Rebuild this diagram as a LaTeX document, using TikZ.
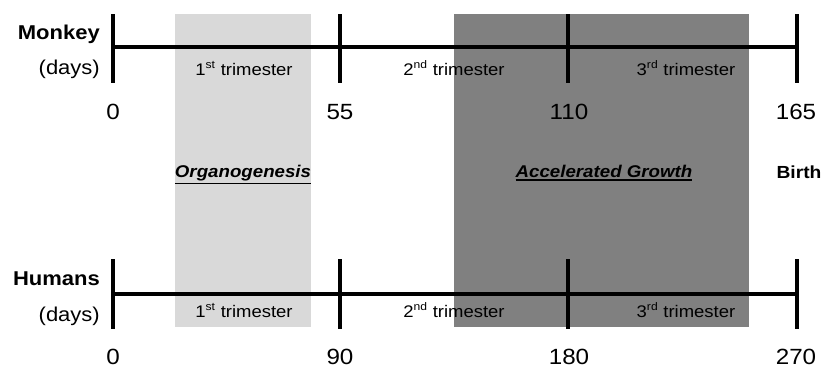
\documentclass[tikz,border=0pt]{standalone}
\usepackage{fontspec}
\setmainfont{Liberation Sans}
\newcommand{\sx}[1]{\scalebox{1.1}[1]{#1}}
\newcommand{\ulbox}[1]{\vtop{\hbox{#1}\kern2pt\hrule height 1.5pt}}
\newcommand{\trim}[2]{#1\textsuperscript{\fontsize{11}{13}\selectfont #2} trimester}
\definecolor{lightband}{HTML}{D9D9D9}
\definecolor{darkband}{HTML}{808080}
\begin{document}
\begin{tikzpicture}[x=1pt,y=-1pt,
  bar/.style={line width=3.8pt, black},
  txt/.style={inner sep=0pt, text=black},
  species/.style={txt, anchor=base east, font=\fontsize{20}{24}\selectfont\bfseries},
  unit/.style={txt, anchor=base east, font=\fontsize{20}{24}\selectfont},
  trimlab/.style={txt, anchor=base, font=\fontsize{16.8}{20}\selectfont},
  num/.style={txt, anchor=base, font=\fontsize{22}{26}\selectfont},
  phase/.style={txt, anchor=base, font=\fontsize{17}{20}\selectfont\bfseries\itshape},
  birthlab/.style={txt, anchor=base, font=\fontsize{17.5}{20}\selectfont\bfseries}]
\useasboundingbox (0,0) rectangle (831,367);
% shaded bands
\fill[lightband] (175,14) rectangle (311,327);
\fill[darkband] (454,14) rectangle (749,327);
% timeline coordinates
\foreach \n/\x in {0/113,1/340,2/568,3/797}{
  \coordinate (mt\n) at (\x,14);
  \coordinate (mb\n) at (\x,83);
  \coordinate (mm\n) at (\x,47);
  \coordinate (ht\n) at (\x,259);
  \coordinate (hb\n) at (\x,329);
  \coordinate (hm\n) at (\x,294);
}
\foreach \n in {0,1,2,3}{
  \draw[bar] (mt\n) -- (mb\n);
  \draw[bar] (ht\n) -- (hb\n);
}
\draw[bar] (mm0) -- (mm3);
\draw[bar] (hm0) -- (hm3);
% labels left
\node[species] (monkey) at (100,39) {\sx{Monkey}};
\node[unit] (mdays) at (100,74) {\sx{(days)}};
\node[species] (humans) at (100,285) {\sx{Humans}};
\node[unit] (hdays) at (100,321) {\sx{(days)}};
% trimester labels
\node[trimlab] (mtri1) at (244,75) {\sx{\trim{1}{st}}};
\node[trimlab] (mtri2) at (454,75) {\sx{\trim{2}{nd}}};
\node[trimlab] (mtri3) at (686,75) {\sx{\trim{3}{rd}}};
\node[trimlab] (htri1) at (244,317) {\sx{\trim{1}{st}}};
\node[trimlab] (htri2) at (454,317) {\sx{\trim{2}{nd}}};
\node[trimlab] (htri3) at (686,317) {\sx{\trim{3}{rd}}};
% day numbers
\node[num] (m0) at (113,119) {\sx{0}};
\node[num] (m55) at (340,119) {\sx{55}};
\node[num] (m110) at (569,119) {\sx{110}};
\node[num] (m165) at (796,119) {\sx{165}};
\node[num] (h0) at (113,364) {\sx{0}};
\node[num] (h90) at (340,364) {\sx{90}};
\node[num] (h180) at (569,364) {\sx{180}};
\node[num] (h270) at (796,364) {\sx{270}};
% phases
\node[phase] (org) at (243,177) {\ulbox{\sx{Organogenesis}}};
\node[phase] (acc) at (604,177) {\ulbox{\sx{Accelerated Growth}}};
\node[birthlab] (birth) at (799,178) {\sx{Birth}};
\end{tikzpicture}
\end{document}
